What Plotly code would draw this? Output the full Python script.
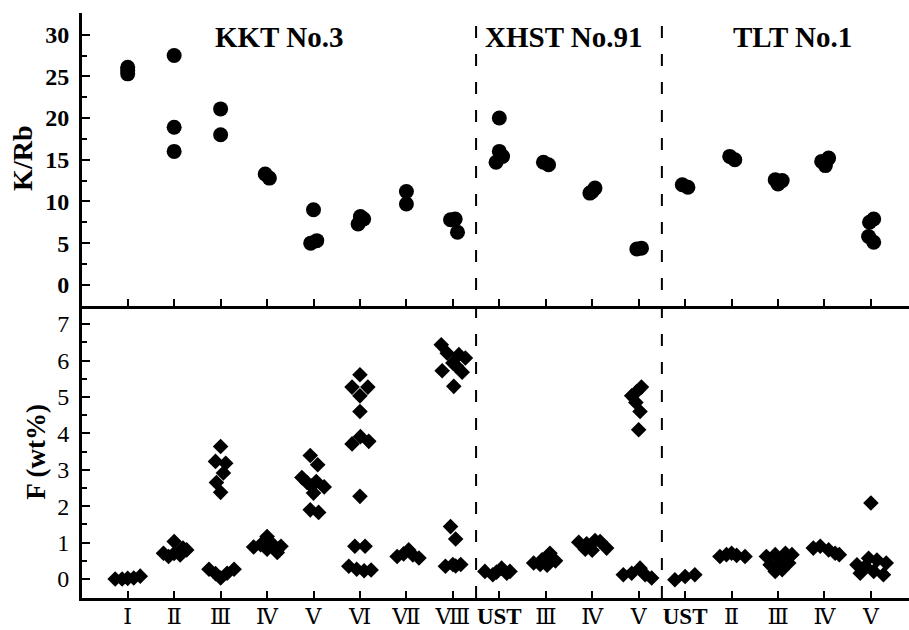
import plotly.graph_objects as go

# ---------------- data ----------------
cat_labels = ["Ⅰ", "Ⅱ", "Ⅲ", "Ⅳ", "Ⅴ", "Ⅵ", "Ⅶ", "Ⅷ",
              "UST", "Ⅲ", "Ⅳ", "Ⅴ",
              "UST", "Ⅱ", "Ⅲ", "Ⅳ", "Ⅴ"]
group_names = ["KKT No.3", "XHST No.91", "TLT No.1"]
group_centers = [3.26, 9.39, 14.31]
group_bounds = [7.5, 11.5]

# K/Rb (top panel): category index, small horizontal offset, value
krb_cat = [0, 0, 0, 1, 1, 1, 2, 2, 3, 3, 4, 4, 4, 5, 5, 5, 6, 6, 7, 7, 7,
           8, 8, 8, 8, 9, 9, 10, 10, 10, 11, 11,
           12, 12, 13, 13, 14, 14, 14, 15, 15, 15, 16, 16, 16, 16]
krb_dx = [0, 0, 0, 0, 0, 0, 0, 0, -0.04, 0.05, 0, -0.06, 0.07, -0.04, 0.01, 0.08, 0, 0, -0.05, 0.05, 0.1,
          0, 0, 0.07, -0.07, -0.05, 0.06, -0.05, 0.06, 0, -0.04, 0.06,
          -0.06, 0.06, -0.04, 0.07, -0.06, 0.09, 0.0, 0.09, -0.06, 0.02, 0.06, -0.03, -0.05, 0.06]
krb_val = [26.1, 25.7, 25.3, 27.5, 18.9, 16.0, 21.1, 18.0, 13.3, 12.8, 9.0, 5.0, 5.3, 7.3, 8.2, 7.9, 11.2, 9.7, 7.8, 7.9, 6.3,
           20.0, 16.0, 15.4, 14.7, 14.7, 14.4, 11.0, 11.6, 11.2, 4.3, 4.4,
           12.0, 11.7, 15.4, 15.0, 12.6, 12.5, 12.1, 15.2, 14.8, 14.3, 7.9, 7.5, 5.8, 5.1]

# F (wt%) (bottom panel)
f_cat = ([0] * 5 + [1] * 7 + [2] * 11 + [3] * 7 + [4] * 10 + [5] * 15 + [6] * 5 + [7] * 15 +
         [8] * 6 + [9] * 6 + [10] * 7 + [11] * 11 +
         [12] * 3 + [13] * 5 + [14] * 9 + [15] * 5 + [16] * 9)
f_dx = [-0.27, -0.12, 0.0, 0.13, 0.27,
        -0.23, -0.12, 0, 0, 0.13, 0.27, 0.19,
        0, -0.11, 0.11, 0.06, -0.09, 0, -0.25, -0.11, 0, 0.14, 0.29,
        -0.29, -0.14, 0, 0, 0.11, 0.22, 0.3,
        -0.25, -0.07, 0.09, -0.14, 0.06, 0, 0.23, -0.07, 0.11, -0.04,
        0, -0.17, 0.17, 0, 0, -0.17, 0.01, 0.19, 0, -0.11, 0.11, -0.24, -0.07, 0.09, 0.24,
        -0.2, -0.06, 0.05, 0.14, 0.27,
        -0.25, -0.12, -0.23, 0, 0.13, 0.27, 0.02, 0.2, 0.08, -0.05, 0.06, -0.16, 0, 0.17, 0.06,
        -0.31, -0.14, 0.05, 0.23, -0.06, 0.16,
        -0.26, -0.08, 0.09, 0.21, 0.03, -0.12,
        -0.29, -0.12, 0.06, 0, 0.17, 0.31, -0.15,
        0.06, -0.04, -0.15, -0.06, 0.03, 0, -0.33, -0.15, 0.03, 0.14, 0.28,
        -0.22, 0, 0.21,
        -0.25, -0.11, 0, 0.11, 0.29,
        -0.25, -0.06, 0.16, 0.3, -0.17, 0.05, 0.23, -0.06, 0.09,
        -0.24, -0.09, 0.09, 0.23, 0.32,
        0, -0.3, -0.05, 0.13, 0.33, -0.23, 0.06, 0.27, -0.12]
f_val = [0.0, 0.0, 0.02, 0.03, 0.08,
         0.71, 0.62, 1.03, 0.70, 0.66, 0.80, 0.85,
         3.64, 3.23, 3.18, 2.91, 2.65, 2.38, 0.27, 0.15, 0.03, 0.16, 0.27,
         0.88, 0.94, 1.17, 0.82, 0.97, 0.73, 0.90,
         2.79, 3.39, 3.14, 2.65, 2.68, 2.36, 2.53, 1.90, 1.83, 2.55,
         5.61, 5.27, 5.27, 5.03, 4.60, 3.71, 3.91, 3.78, 2.27, 0.90, 0.90, 0.35, 0.27, 0.23, 0.25,
         0.62, 0.69, 0.80, 0.66, 0.58,
         6.43, 6.20, 5.72, 5.93, 6.16, 6.07, 5.29, 5.68, 5.84, 1.44, 1.10, 0.35, 0.40, 0.40, 0.36,
         0.21, 0.12, 0.30, 0.21, 0.19, 0.16,
         0.44, 0.53, 0.71, 0.50, 0.38, 0.40,
         1.01, 0.97, 1.06, 0.79, 1.03, 0.85, 0.82,
         5.27, 5.15, 5.03, 4.85, 4.60, 4.10, 0.12, 0.16, 0.30, 0.12, 0.03,
         -0.02, 0.07, 0.12,
         0.62, 0.67, 0.71, 0.65, 0.62,
         0.62, 0.67, 0.71, 0.67, 0.39, 0.44, 0.44, 0.21, 0.26,
         0.85, 0.90, 0.80, 0.71, 0.67,
         2.09, 0.39, 0.57, 0.52, 0.44, 0.16, 0.21, 0.12, 0.35]

# ---------------- figure ----------------
SERIF = "Liberation Serif, Times New Roman, DejaVu Serif, serif"


def fmt_tick(lbl):
    if lbl == "UST":
        return '<b><span style="font-size:23px">UST</span></b>'
    return lbl


fig = go.Figure()
fig.add_trace(go.Scatter(
    x=[c + d for c, d in zip(krb_cat, krb_dx)], y=krb_val,
    mode="markers", marker=dict(symbol="circle", size=15, color="black"),
    xaxis="x2", yaxis="y2", showlegend=False))
fig.add_trace(go.Scatter(
    x=[c + d for c, d in zip(f_cat, f_dx)], y=f_val,
    mode="markers", marker=dict(symbol="diamond", size=12, color="black"),
    xaxis="x", yaxis="y", showlegend=False))

xcommon = dict(range=[-0.984, 16.82], tickvals=list(range(len(cat_labels))),
               ticks="inside", ticklen=7, tickwidth=2, tickcolor="black",
               showline=True, linewidth=3, linecolor="black",
               showgrid=False, zeroline=False, automargin=False)

fig.update_layout(
    width=909, height=630, autosize=False,
    margin=dict(l=82, r=0, t=13, b=32),
    paper_bgcolor="white", plot_bgcolor="white",
    xaxis=dict(**xcommon, anchor="y", domain=[0, 1],
               ticktext=[fmt_tick(t) for t in cat_labels],
               ticklabelstandoff=-3,
               tickfont=dict(family=SERIF, size=22, color="black")),
    xaxis2=dict(**xcommon, anchor="y2", domain=[0, 1], matches="x",
                showticklabels=False),
    yaxis=dict(domain=[0, 0.5], anchor="x", range=[-0.52, 7.51],
               tickvals=list(range(0, 8)), ticks="inside", ticklen=8,
               tickwidth=2, tickcolor="black", ticklabelstandoff=5,
               minor=dict(dtick=0.5, tick0=0, ticks="inside", ticklen=5, tickwidth=2, tickcolor="black"),
               showline=True, linewidth=3, linecolor="black",
               showgrid=False, zeroline=False, automargin=False,
               tickfont=dict(family=SERIF, size=24, color="black")),
    yaxis2=dict(domain=[0.5, 1], anchor="x2", range=[-2.48, 32.6],
                tickvals=list(range(0, 31, 5)), ticks="inside", ticklen=8,
                tickwidth=2, tickcolor="black", ticklabelstandoff=5,
                minor=dict(dtick=2.5, tick0=0, ticks="inside", ticklen=5, tickwidth=2, tickcolor="black"),
                showline=True, linewidth=3, linecolor="black",
                showgrid=False, zeroline=False, automargin=False,
                tickfont=dict(family=SERIF, size=24, color="black", weight="bold")),
)

for xb in group_bounds:
    fig.add_shape(type="line", xref="x", yref="paper", x0=xb, x1=xb, y0=0, y1=1,
                  line=dict(color="black", width=2, dash="12px,16px"))

for name, xc in zip(group_names, group_centers):
    fig.add_annotation(x=xc, y=0.959, xref="x", yref="paper", text=f"<b>{name}</b>",
                       showarrow=False, font=dict(family=SERIF, size=29, color="black"),
                       xanchor="center", yanchor="middle")

fig.add_annotation(x=(23 - 82) / (909 - 82), y=0.7506, xref="paper", yref="paper",
                   text="<b>K/Rb</b>", showarrow=False, textangle=-90,
                   xanchor="center", yanchor="middle",
                   font=dict(family=SERIF, size=28, color="black"))
fig.add_annotation(x=(36 - 82) / (909 - 82), y=0.25, xref="paper", yref="paper",
                   text="<b>F (wt%)</b>", showarrow=False, textangle=-90,
                   xanchor="center", yanchor="middle",
                   font=dict(family=SERIF, size=27, color="black"))

fig.write_html("out.html")
